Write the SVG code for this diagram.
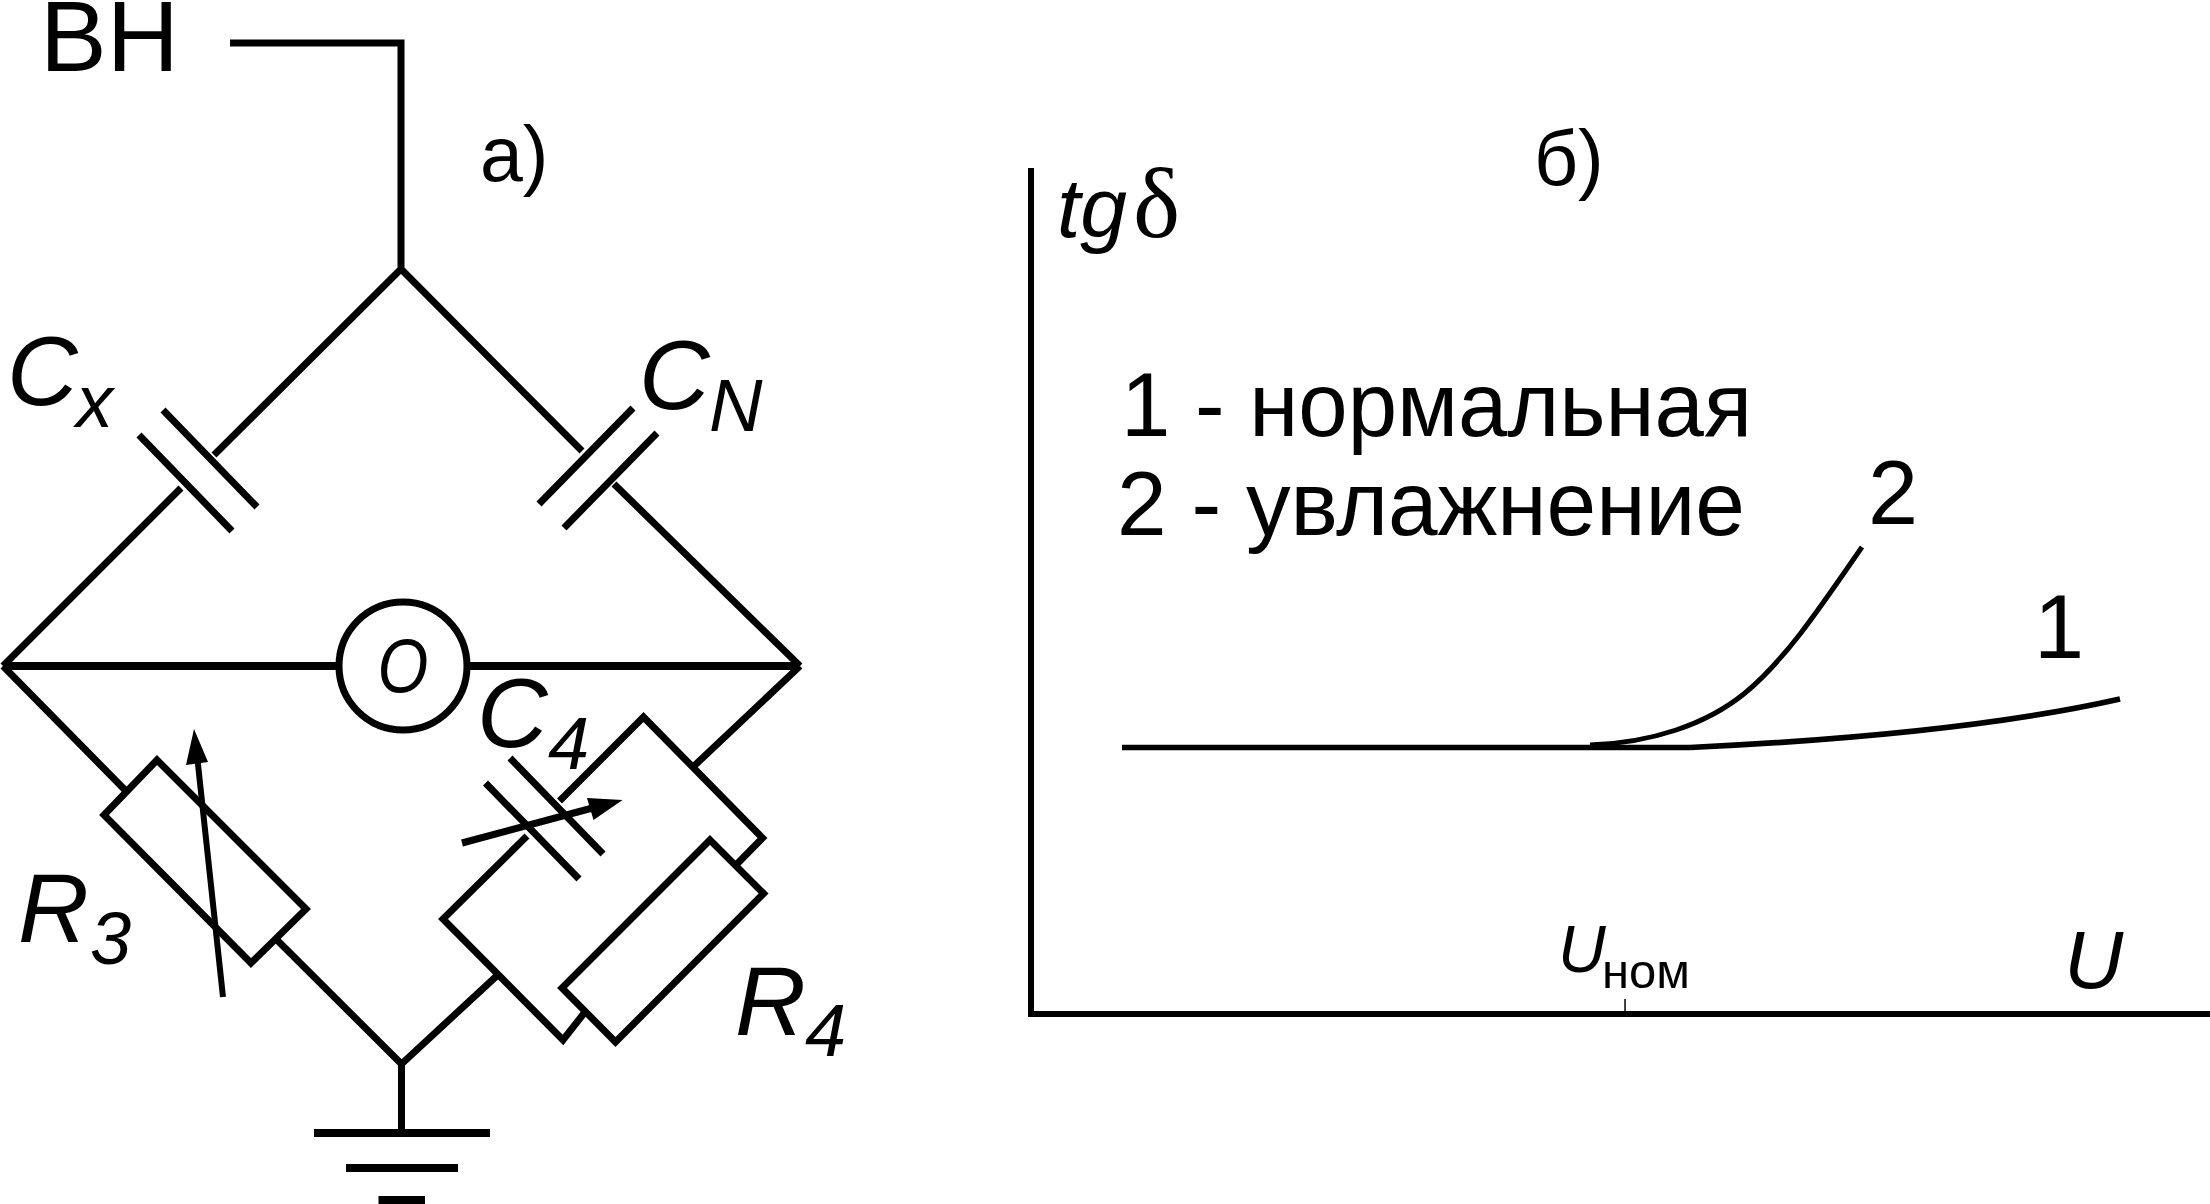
<svg xmlns="http://www.w3.org/2000/svg" width="2210" height="1204" viewBox="0 0 2210 1204">
<style>
.w{fill:none;stroke:#000;stroke-width:7;stroke-linejoin:miter}
.ax{fill:none;stroke:#000;stroke-width:6}
.c{fill:none;stroke:#000}
text{font-family:"Liberation Sans",Arial,sans-serif;fill:#000}
.i{font-style:italic}
.big{font-size:98px}
.sub{font-size:74px}
.leg{font-size:90px}
.lab{font-size:77px}
</style>
<rect width="2210" height="1204" fill="#fff"/>
<g id="connectors">
<path class="w" d="M230 43H401V269M401 269L214 455M401 269L582 451M181 488L3 666M614 484L800 666"/>
<path class="w" style="stroke-width:8" d="M3 666H341M465 666H800"/>
<path class="w" d="M3 666L126 791M276 939L401.5 1064M800 666L694 766M736 865L762.5 838L643.5 717L559.500 801M527 836L443 919L563 1040L585 1012M497 975.600L401.500 1064V1133"/>
</g>
<g id="cap-cx"><path class="w" d="M163 410L257 507M139 435L232 531"/></g>
<g id="cap-cn"><path class="w" d="M633 408L539 504M657 433L564 528"/></g>
<g id="galvanometer"><circle class="w" cx="403" cy="666" r="64"/><text class="i" transform="translate(403 692) scale(.86 1)" font-size="76" text-anchor="middle">O</text></g>
<g id="r3">
<path class="w" d="M157 760L104 815L251 963L306 909Z"/>
<path class="w" style="stroke-width:6" d="M223 997L197 755"/>
<path d="M194 729L208 762L186 765Z"/>
</g>
<g id="c4">
<path class="w" d="M510 758L603 854M485.500 783L579 879"/>
<path class="w" d="M462 843L600 806"/>
<path d="M622.600 800L593.500 820L587 798Z"/>
</g>
<g id="r4"><path class="w" d="M710 840L763.600 893.500L615.500 1042L562 988Z"/></g>
<g id="ground">
<path d="M314 1129H490V1137H314ZM346 1164H458V1172H346ZM378.500 1196H425V1204H378.500Z"/>
</g>
<g id="chart">
<path class="ax" d="M1031 168V1014H2210"/>
<path d="M1624.300 999h1.500v12h-1.500z"/>
<path class="c" stroke-width="5.700" d="M1122 747.500H1690"/>
<path class="c" stroke-width="5.700" d="M1690 747.500C1850 740 2000 726 2120 699"/>
<path class="c" stroke-width="5" d="M1590 745C1650 743 1706 725 1745 693C1785 660 1820 608 1862 547"/>
</g>
<g id="labels">
<text x="40" y="71" font-size="100">ВН</text>
<text class="lab" x="480" y="181">а)</text>
<text class="lab" x="1534" y="185">б)</text>
<text class="i big" x="7" y="405">C</text><text class="i sub" x="76" y="427">x</text>
<text class="i big" x="639" y="409">C</text><text class="i sub" x="709" y="431">N</text>
<text class="i big" x="477" y="747">C</text><text class="i sub" x="548" y="769">4</text>
<text class="i big" x="18" y="942">R</text><text class="i sub" x="90" y="964">3</text>
<text class="i big" x="735" y="1035">R</text><text class="i sub" x="805" y="1056">4</text>
<text class="i" x="1057" y="237" font-size="84">tg</text><text x="1133" y="237" font-size="100" style="font-family:'Liberation Serif',serif">δ</text>
<text class="leg" x="1121" y="436" textLength="631" lengthAdjust="spacingAndGlyphs">1 - нормальная</text>
<text class="leg" x="1117" y="535" textLength="628" lengthAdjust="spacingAndGlyphs">2 - увлажнение</text>
<text class="leg" x="1868" y="524">2</text>
<text class="leg" x="2034" y="658">1</text>
<text class="i" x="1558" y="972" font-size="66">U</text><text x="1602" y="988" font-size="49">ном</text>
<text class="i" x="2064" y="988" font-size="82">U</text>
</g>
</svg>
